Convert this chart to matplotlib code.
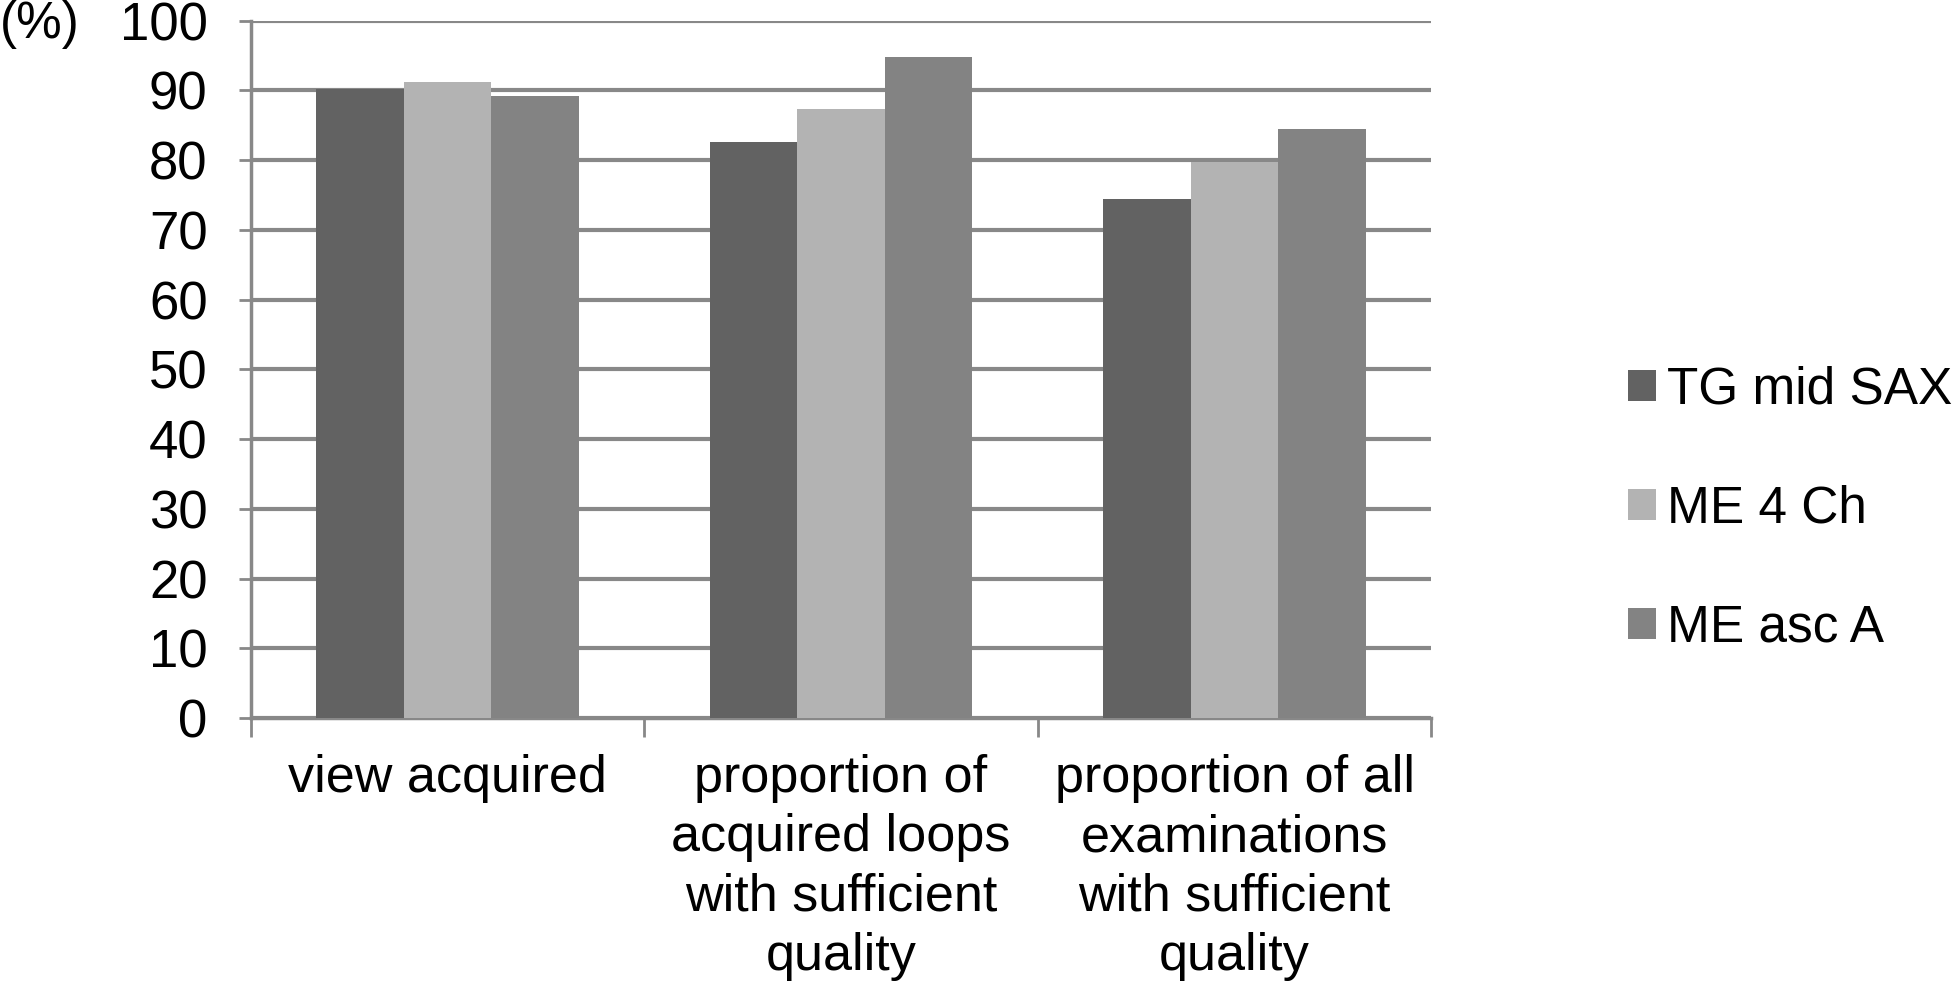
import matplotlib
matplotlib.use("Agg")
import matplotlib.pyplot as plt
import numpy as np

plt.rcParams['font.family'] = ['Liberation Sans', 'DejaVu Sans']

categories = ["view acquired",
              "proportion of\nacquired loops\nwith sufficient\nquality",
              "proportion of all\nexaminations\nwith sufficient\nquality"]
series_names = ["TG mid SAX", "ME 4 Ch", "ME asc A"]
tg_mid_sax = [90.2, 82.6, 74.4]
me_4_ch = [91.2, 87.4, 79.8]
me_asc_a = [89.2, 94.8, 84.5]
yticks = list(range(0, 101, 10))

colors = ["#626262", "#b3b3b3", "#838383"]
grid_color = "#888888"

fig = plt.figure(figsize=(19.58, 9.89), dpi=100)
ax = fig.add_axes([0.128, 0.274, 0.603, 0.705])

x = np.arange(len(categories))
w = 1 / 4.5
for i, (vals, name) in enumerate(zip([tg_mid_sax, me_4_ch, me_asc_a], series_names)):
    ax.bar(x + (i - 1) * w, vals, width=w, color=colors[i], label=name, zorder=3)

ax.set_xlim(-0.5, len(categories) - 0.5)
ax.set_ylim(0, 100)
ax.set_yticks(yticks)
ax.set_yticklabels([str(t) for t in yticks], fontsize=38)
ax.yaxis.grid(True, color=grid_color, linewidth=3, zorder=0)

ax.set_xticks(x)
ax.set_xticklabels(categories, fontsize=37.5, linespacing=1.27)
ax.set_xticks(np.arange(-0.5, len(categories)), minor=True)
ax.tick_params(axis='x', which='major', length=0, pad=26)
ax.tick_params(axis='x', which='minor', length=14, width=2, color=grid_color)
ax.tick_params(axis='y', length=9, width=2, color=grid_color, pad=22)

for s in ['top', 'right']:
    ax.spines[s].set_visible(False)
for s in ['left', 'bottom']:
    ax.spines[s].set_color(grid_color)
    ax.spines[s].set_linewidth(2.5)

fig.text(0.0, 0.975, "(%)", fontsize=37, va='center', ha='left')

ax.legend(loc='center left', bbox_to_anchor=(0.821, 0.485), bbox_transform=fig.transFigure,
          frameon=False, fontsize=37, handlelength=0.55, handleheight=0.55,
          handletextpad=0.2, labelspacing=1.36, borderaxespad=0)

fig.savefig("out.png", dpi=100)
